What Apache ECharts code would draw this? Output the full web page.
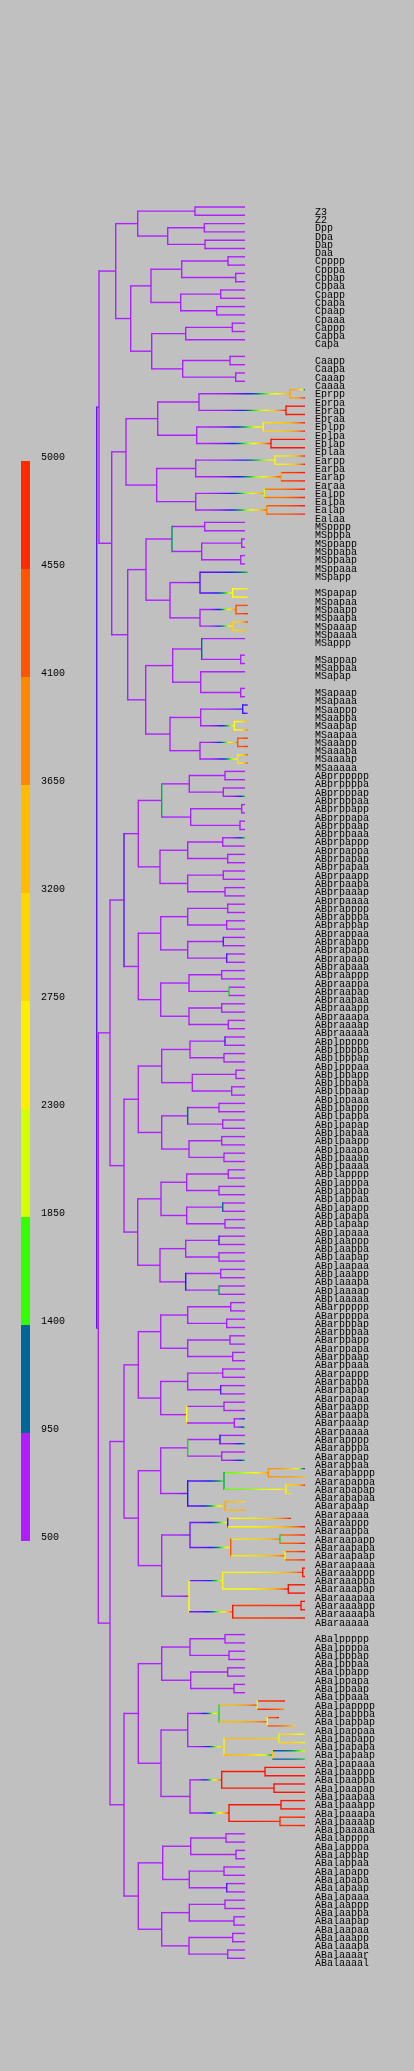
<!DOCTYPE html>
<html>
<head>
<meta charset="utf-8">
<script src="https://cdn.jsdelivr.net/npm/echarts@6.0.0/dist/echarts.min.js"></script>
<style>
html, body { margin: 0; padding: 0; background: #c0c0c0; }
#chart { width: 414px; height: 2071px; }
</style>
</head>
<body>
<div id="chart"></div>
<script>
'use strict';

// leaves top to bottom. '' = empty row, [name, end time, level] when not default
var leavesP = ['Z3', 'Z2', 'Dpp', 'Dpa', 'Dap', 'Daa',
    'Cpppp', 'Cpppa', 'Cppap', 'Cppaa', 'Cpapp', 'Cpapa', 'Cpaap', 'Cpaaa',
    'Cappp', 'Cappa', 'Capa', '', 'Caapp', 'Caapa', 'Caaap', 'Caaaa'];

var leavesE = [['Eprpp', 305, 1100], ['Eprpa', 305, 4800], ['Eprap', 305, 4800], ['Epraa', 305, 4800],
    ['Eplpp', 305, 4800], ['Eplpa', 305, 4800], ['Eplap', 305, 4800], ['Eplaa', 305, 4800],
    ['Earpp', 305, 4800], ['Earpa', 305, 4800], ['Earap', 305, 4800], ['Earaa', 305, 4800],
    ['Ealpp', 305, 4800], ['Ealpa', 305, 4800], ['Ealap', 305, 4800], ['Ealaa', 305, 4800]];

var leavesMS = ['MSpppp', 'MSpppa', 'MSppapp', 'MSppapa', 'MSppaap', 'MSppaaa',
    ['MSpapp', 247.7, 1600], '', ['MSpapap', 247.7, 2600], ['MSpapaa', 247.7, 2600],
    ['MSpaapp', 247.7, 4400], ['MSpaapa', 247.7, 4800], ['MSpaaap', 247.7, 4800], ['MSpaaaa', 247.7, 3400],
    'MSappp', '', 'MSappap', 'MSappaa', 'MSapap', '', 'MSapaap', 'MSapaaa',
    ['MSaappp', 247.7, 1000], ['MSaappa', 247.7, 500], ['MSaapap', 247.7, 3600], ['MSaapaa', 247.7, 4200],
    ['MSaaapp', 247.7, 4800], ['MSaaapa', 247.7, 4800], ['MSaaaap', 247.7, 4800], ['MSaaaaa', 247.7, 4600]];

var leavesABpr = ['ABprppppp', 'ABprppppa', 'ABprpppap', ['ABprpppaa', 245, 1600],
    'ABprppapp', 'ABprppapa', 'ABprppaap', 'ABprppaaa',
    ['ABprpappp', 245, 1600], 'ABprpappa', 'ABprpapap', 'ABprpapaa',
    'ABprpaapp', 'ABprpaapa', 'ABprpaaap', 'ABprpaaaa',
    'ABprapppp', 'ABprapppa', 'ABprappap', 'ABprappaa',
    'ABprapapp', 'ABprapapa', 'ABprapaap', 'ABprapaaa',
    'ABpraappp', 'ABpraappa', 'ABpraapap', 'ABpraapaa',
    'ABpraaapp', 'ABpraaapa', 'ABpraaaap', 'ABpraaaaa'];

var leavesABpl = ['ABplppppp', 'ABplppppa', 'ABplpppap', 'ABplpppaa',
    'ABplppapp', 'ABplppapa', 'ABplppaap', 'ABplppaaa',
    'ABplpappp', 'ABplpappa', 'ABplpapap', 'ABplpapaa',
    'ABplpaapp', 'ABplpaapa', 'ABplpaaap', 'ABplpaaaa',
    'ABplapppp', 'ABplapppa', 'ABplappap', 'ABplappaa',
    'ABplapapp', 'ABplapapa', 'ABplapaap', 'ABplapaaa',
    'ABplaappp', 'ABplaappa', 'ABplaapap', 'ABplaapaa',
    'ABplaaapp', 'ABplaaapa', 'ABplaaaap', 'ABplaaaaa'];

var leavesABar = ['ABarppppp', 'ABarppppa', 'ABarpppap', 'ABarpppaa',
    'ABarppapp', 'ABarppapa', 'ABarppaap', 'ABarppaaa',
    'ABarpappp', 'ABarpappa', 'ABarpapap', 'ABarpapaa',
    'ABarpaapp', 'ABarpaapa', ['ABarpaaap', 245, 1300], ['ABarpaaaa', 245, 1700],
    'ABarapppp', ['ABarapppa', 245, 1500], 'ABarappap', ['ABarappaa', 245, 1600],
    ['ABarapappp', 305, 800], ['ABarapappa', 305, 3300], ['ABarapapap', 305, 4800], ['ABarapapaa', 290.7, 2600],
    ['ABarapaap', 245, 2800], ['ABarapaaa', 245, 3600],
    ['ABaraappp', 291, 4800], ['ABaraappa', 305, 4800],
    ['ABaraapapp', 305, 4800], ['ABaraapapa', 305, 4800], ['ABaraapaap', 305, 4800], ['ABaraapaaa', 305, 4800],
    ['ABaraaappp', 305, 4800], ['ABaraaappa', 305, 4800], ['ABaraaapap', 305, 4800], ['ABaraaapaa', 305, 4800],
    ['ABaraaaapp', 305, 4800], ['ABaraaaapa', 305, 4800], ['ABaraaaaa', 305, 4800], ''];

var leavesABal = ['ABalppppp', 'ABalppppa', 'ABalpppap', 'ABalpppaa',
    'ABalppapp', 'ABalppapa', 'ABalppaap', 'ABalppaaa',
    ['ABalpapppp', 285, 4800], ['ABalpapppa', 284, 3800], ['ABalpappap', 279, 4800], ['ABalpappaa', 295, 3000],
    ['ABalpapapp', 305, 2000], ['ABalpapapa', 305, 2500], ['ABalpapaap', 305, 2200], ['ABalpapaaa', 305, 1600],
    ['ABalpaappp', 305, 4800], ['ABalpaappa', 305, 4800], ['ABalpaapap', 305, 4800], ['ABalpaapaa', 305, 4800],
    ['ABalpaaapp', 305, 4800], ['ABalpaaapa', 305, 4800], ['ABalpaaaap', 305, 4800], ['ABalpaaaaa', 305, 4800],
    'ABalapppp', 'ABalapppa', 'ABalappap', 'ABalappaa',
    'ABalapapp', 'ABalapapa', 'ABalapaap', 'ABalapaaa',
    'ABalaappp', 'ABalaappa', 'ABalaapap', 'ABalaapaa',
    'ABalaaapp', 'ABalaaapa', 'ABalaaaar', 'ABalaaaal'];

// divisions: [cell, time, level at division, level of the division bar]
var divP = [['P0', 96.7, 500, 800], ['P1', 99], ['P2', 115.7], ['P3', 137.7], ['P4', 195],
    ['D', 167.7], ['Dp', 204.3], ['Da', 205],
    ['C', 130.7], ['Cp', 151], ['Cpp', 181.7], ['Cppp', 228], ['Cppa', 235.7],
    ['Cpa', 180.7], ['Cpap', 220.7], ['Cpaa', 216.7],
    ['Ca', 151.7], ['Cap', 185.7], ['Capp', 232.3], ['Caa', 182.7], ['Caap', 230], ['Caaa', 235.7],
    ['EMS', 111.7], ['AB', 98.3], ['ABp', 110], ['ABa', 110]];

var divE = [['E', 126], ['Ep', 157.7], ['Epr', 199], ['Eprp', 290, 3600], ['Epra', 286, 4800],
    ['Epl', 196.7], ['Eplp', 263.3, 3000, 2600], ['Epla', 271, 4800],
    ['Ea', 156.7], ['Ear', 195.7], ['Earp', 275, 2700, 2600], ['Eara', 281, 4500, 3600],
    ['Eal', 195.7], ['Ealp', 264.3, 4000, 2000], ['Eala', 266.7, 4300, 3900]];

var divMS = [['MS', 127.7], ['MSp', 146], ['MSpp', 172, 500, 1400], ['MSppp', 204.7], ['MSppa', 201.7],
    ['MSppap', 241.7], ['MSppaa', 240.7],
    ['MSpa', 170], ['MSpap', 200, 800], ['MSpapa', 232.7, 2500], ['MSpaa', 200],
    ['MSpaap', 236, 4300], ['MSpaaa', 232.7, 3000],
    ['MSa', 145.7], ['MSap', 172.7], ['MSapp', 201.7, 500, 1250], ['MSappa', 240.7],
    ['MSapa', 200.7], ['MSapaa', 240.7],
    ['MSaa', 170], ['MSaap', 200.7], ['MSaapp', 242.7, 900], ['MSaapa', 234.3, 2500],
    ['MSaaa', 200], ['MSaaap', 237.7, 4300], ['MSaaaa', 237.7, 2800]];

var divABpr = [['ABpr', 124, 500, 800], ['ABprp', 138.3], ['ABprpp', 161.7, 500, 1500],
    ['ABprppp', 189.3], ['ABprpppp', 225], ['ABprpppa', 223.3],
    ['ABprppa', 190.7], ['ABprppap', 241.7], ['ABprppaa', 240],
    ['ABprpa', 160], ['ABprpap', 187.7], ['ABprpapp', 222.7], ['ABprpapa', 227.7],
    ['ABprpaa', 187.7], ['ABprpaap', 223.3], ['ABprpaaa', 225],
    ['ABpra', 138.3], ['ABprap', 160.7], ['ABprapp', 187.7], ['ABprappp', 227.7], ['ABprappa', 226.7],
    ['ABprapa', 187.7], ['ABprapap', 223.3, 500, 800], ['ABprapaa', 226.7, 500, 800],
    ['ABpraa', 160.7], ['ABpraap', 189], ['ABpraapp', 221.7], ['ABpraapa', 229, 500, 1600],
    ['ABpraaa', 189], ['ABpraaap', 221.7], ['ABpraaaa', 228.3]];

var divABpl = [['ABpl', 124], ['ABplp', 138.3], ['ABplpp', 161.7],
    ['ABplppp', 190], ['ABplpppp', 225, 500, 800], ['ABplpppa', 224],
    ['ABplppa', 192.3], ['ABplppap', 236], ['ABplppaa', 231.7],
    ['ABplpa', 161.7], ['ABplpap', 187.7, 500, 1250], ['ABplpapp', 219], ['ABplpapa', 222.7],
    ['ABplpaa', 189], ['ABplpaap', 221.7], ['ABplpaaa', 224],
    ['ABpla', 137.7], ['ABplap', 161], ['ABplapp', 186.7], ['ABplappp', 228.3], ['ABplappa', 219],
    ['ABplapa', 186.7], ['ABplapap', 222.7, 500, 1250], ['ABplapaa', 225],
    ['ABplaa', 160], ['ABplaap', 185.7], ['ABplaapp', 219, 500, 800], ['ABplaapa', 219],
    ['ABplaaa', 185.7, 500, 1000], ['ABplaaap', 220.7], ['ABplaaaa', 219, 500, 1500]];

var divABar = [['ABar', 124], ['ABarp', 138.3], ['ABarpp', 160.7],
    ['ABarppp', 187.7], ['ABarpppp', 230.7], ['ABarpppa', 226.7],
    ['ABarppa', 187.7], ['ABarppap', 230], ['ABarppaa', 232.7],
    ['ABarpa', 160.7], ['ABarpap', 187.7], ['ABarpapp', 222.7], ['ABarpapa', 220.7, 500, 800],
    ['ABarpaa', 186.7, 500, 2500], ['ABarpaap', 224], ['ABarpaaa', 234.3],
    ['ABara', 138.3], ['ABarap', 160.7], ['ABarapp', 187.7, 500, 1600],
    ['ABarappp', 220, 500, 1000], ['ABarappa', 221.7],
    ['ABarapa', 187.7, 800, 1000], ['ABarapap', 224, 1800, 1500],
    ['ABarapapp', 268.3, 3800], ['ABarapapa', 286, 3000, 2600], ['ABarapaa', 225, 3400, 3600],
    ['ABaraa', 161.7], ['ABaraap', 190, 700], ['ABaraapp', 227.7, 2600, 900],
    ['ABaraapa', 230.7, 2800, 4300], ['ABaraapap', 280, 4200, 1600], ['ABaraapaa', 285, 4300, 2600],
    ['ABaraaa', 189, 700, 2500], ['ABaraaap', 222.7, 2400, 2600],
    ['ABaraaapp', 302.7, 4600, 4800], ['ABaraaapa', 288.3, 4800],
    ['ABaraaaa', 232.7, 4500, 4800], ['ABaraaaap', 301, 4800]];

var divABal = [['ABal', 124], ['ABalp', 138.3], ['ABalpp', 161.7],
    ['ABalppp', 190], ['ABalpppp', 225], ['ABalpppa', 229],
    ['ABalppa', 190.7], ['ABalppap', 227.7], ['ABalppaa', 234],
    ['ABalpa', 161], ['ABalpap', 187.7], ['ABalpapp', 219, 3400, 1600],
    ['ABalpappp', 257.3, 4600, 2200], ['ABalpappa', 267.3, 4300, 2500],
    ['ABalpapa', 224, 3400, 2700], ['ABalpapap', 279, 3000, 2200], ['ABalpapaa', 272.3, 1200, 3200],
    ['ABalpaa', 190], ['ABalpaap', 221.7, 4800], ['ABalpaapp', 265, 4800], ['ABalpaapa', 274, 4800],
    ['ABalpaaa', 229, 4800], ['ABalpaaap', 281, 4800], ['ABalpaaaa', 280, 4600],
    ['ABala', 138.3], ['ABalap', 162.7], ['ABalapp', 190.7], ['ABalappp', 226], ['ABalappa', 236],
    ['ABalapa', 189.3], ['ABalapap', 224], ['ABalapaa', 226.7, 500, 800],
    ['ABalaa', 161.7], ['ABalaap', 189.3], ['ABalaapp', 225], ['ABalaapa', 234],
    ['ABalaaa', 189], ['ABalaaap', 232.7], ['ABalaaaa', 227.7]];

var END_TIME = 245;
var BASE_LEVEL = 500;

// colour scale
var cbTicks = [500, 950, 1400, 1850, 2300, 2750, 3200, 3650, 4100, 4550, 5000];
var cbColors = ['#b01eff', '#00669a', '#33ff00', '#d4ff00', '#ffee00',
    '#ffd500', '#ffbb00', '#ff8800', '#ff5500', '#ff2a00'];
var lineColors = [[500, '#b020ff'], [800, '#5a14ff'], [1000, '#1a1aff'], [1250, '#00669a'],
    [1500, '#00b048'], [1700, '#33ff00'], [2000, '#ccff00'], [2500, '#ffff00'], [3000, '#ffd500'],
    [3400, '#ffbb00'], [3900, '#ff8800'], [4300, '#ff5500'], [4800, '#ff1400'], [5000, '#ff0000']];

// layout
var W = 414, H = 2071;
var ROW = 8.3, FIRST_ROW_Y = 207;
var LABEL_X = 315, LABEL_DY = 5;
var LINE_W = 1.4;
var FONT = '10px "Liberation Mono", "DejaVu Sans Mono", monospace';


function levelColor(v) {
    if (v <= lineColors[0][0]) return lineColors[0][1];
    for (var i = 1; i < lineColors.length; i++) {
        if (v <= lineColors[i][0]) {
            var a = lineColors[i - 1], b = lineColors[i];
            return echarts.color.lerp((v - a[0]) / (b[0] - a[0]), [a[1], b[1]]);
        }
    }
    return lineColors[lineColors.length - 1][1];
}

// build the lineage from the names
var founderParent = {
    Z2: 'P4', Z3: 'P4', P4: 'P3', D: 'P3', P3: 'P2', C: 'P2', P2: 'P1',
    E: 'EMS', MS: 'EMS', EMS: 'P1', P1: 'P0', AB: 'P0'
};
function parentOf(name) {
    if (name === 'P0') return null;
    if (founderParent[name]) return founderParent[name];
    return name.slice(0, -1);
}

var nodes = {};
function getNode(name) {
    if (!nodes[name]) {
        nodes[name] = { name: name, children: [], x: null, lv: BASE_LEVEL, vlv: null, y: null, leaf: false };
    }
    return nodes[name];
}

var leafRows = [].concat(leavesP, leavesE, leavesMS, leavesABpr, leavesABpl, leavesABar, leavesABal);
var labelData = [];
leafRows.forEach(function (item, row) {
    if (!item) return;
    var name = typeof item === 'string' ? item : item[0];
    var n = getNode(name);
    n.leaf = true;
    n.y = row;
    n.x = typeof item === 'string' ? END_TIME : item[1];
    if (typeof item !== 'string') n.lv = item[2];
    labelData.push([LABEL_X, row, name]);

    var c = name, p;
    while ((p = parentOf(c))) {
        var pn = getNode(p);
        if (pn.children.indexOf(c) >= 0) break;
        pn.children.push(c);
        c = p;
    }
});

[].concat(divP, divE, divMS, divABpr, divABpl, divABar, divABal).forEach(function (d) {
    var n = getNode(d[0]);
    n.x = d[1];
    if (d[2] != null) n.lv = d[2];
    if (d[3] != null) n.vlv = d[3];
});

function placeY(name) {
    var n = nodes[name];
    if (n.y === null) {
        var ys = n.children.map(placeY);
        n.y = (ys[0] + ys[ys.length - 1]) / 2;
    }
    return n.y;
}
placeY('P0');

// [start, end, row, level start, level end, internal, row top, row bottom, bar level]
var branchData = [];
Object.keys(nodes).forEach(function (name) {
    var n = nodes[name];
    var p = parentOf(name);
    var pn = p ? nodes[p] : n;
    var top = n.leaf ? n.y : nodes[n.children[0]].y;
    var bot = n.leaf ? n.y : nodes[n.children[n.children.length - 1]].y;
    branchData.push([pn.x, n.x, n.y, pn.lv, n.lv, n.leaf ? 0 : 1, top, bot,
        n.vlv != null ? n.vlv : n.lv]);
});

var bandData = [];
for (var i = 0; i < cbColors.length; i++) {
    bandData.push([0, cbTicks[i], cbTicks[i + 1], i]);
}


// expression mostly changes late in a cell's life, so the ramp is eased
function branchStroke(xa, xb, lv0, lv1) {
    if (lv0 === lv1) return levelColor(lv1);
    var stops = [];
    var N = 14;
    for (var k = 0; k <= N; k++) {
        var t = k / N;
        stops.push({ offset: t, color: levelColor(lv0 + (lv1 - lv0) * t * t * t) });
    }
    return { type: 'linear', x: xa, y: 0, x2: xb, y2: 0, global: true, colorStops: stops };
}

function renderBranch(params, api) {
    var x0 = api.value(0), x1 = api.value(1), row = api.value(2);
    var a = api.coord([x0, row]);
    var b = api.coord([x1, row]);
    var kids = [];
    if (x1 > x0) {
        kids.push({
            type: 'line',
            shape: { x1: a[0], y1: a[1], x2: b[0], y2: b[1] },
            style: { stroke: branchStroke(a[0], b[0], api.value(3), api.value(4)), lineWidth: LINE_W }
        });
    }
    if (api.value(5) === 1) {
        var t = api.coord([x1, api.value(6)]);
        var u = api.coord([x1, api.value(7)]);
        kids.push({
            type: 'line',
            shape: { x1: t[0], y1: t[1] - LINE_W / 2, x2: u[0], y2: u[1] + LINE_W / 2 },
            style: { stroke: levelColor(api.value(8)), lineWidth: LINE_W }
        });
    }
    return { type: 'group', children: kids };
}

function renderLabel(params, api) {
    var p = api.coord([api.value(0), api.value(1)]);
    return {
        type: 'text',
        x: p[0],
        y: p[1] + LABEL_DY,
        style: { text: labelData[params.dataIndex][2], font: FONT, fill: '#000', verticalAlign: 'middle' }
    };
}

function renderBand(params, api) {
    var lo = api.coord([0, api.value(1)]);
    var hi = api.coord([1, api.value(2)]);
    return {
        type: 'rect',
        shape: { x: lo[0], y: hi[1], width: hi[0] - lo[0], height: lo[1] - hi[1] },
        style: { fill: cbColors[api.value(3)] }
    };
}

function renderTick(params, api) {
    var p = api.coord([1, api.value(0)]);
    return {
        type: 'text',
        x: p[0] + 11,
        y: p[1] + 1,
        style: { text: String(api.value(0)), font: FONT, fill: '#000', verticalAlign: 'bottom' }
    };
}


var chart = echarts.init(document.getElementById('chart'), null, { renderer: 'canvas' });
chart.setOption({
    backgroundColor: '#c0c0c0',
    animation: false,
    grid: [
        { left: 0, right: 0, top: 0, bottom: 0 },
        { left: 21, top: 461, width: 9, height: 1080 }
    ],
    xAxis: [
        { type: 'value', gridIndex: 0, min: 0, max: W, show: false },
        { type: 'value', gridIndex: 1, min: 0, max: 1, show: false }
    ],
    yAxis: [
        { type: 'value', gridIndex: 0, inverse: true, show: false,
          min: -FIRST_ROW_Y / ROW, max: (H - FIRST_ROW_Y) / ROW },
        { type: 'value', gridIndex: 1, min: cbTicks[0], max: cbTicks[cbTicks.length - 1], show: false }
    ],
    series: [
        {
            type: 'custom', xAxisIndex: 0, yAxisIndex: 0, clip: false, silent: true,
            renderItem: renderBranch, encode: { x: [0, 1], y: 2 }, data: branchData
        },
        {
            type: 'custom', xAxisIndex: 0, yAxisIndex: 0, clip: false, silent: true,
            renderItem: renderLabel, encode: { x: 0, y: 1 }, data: labelData
        },
        {
            type: 'custom', xAxisIndex: 1, yAxisIndex: 1, clip: false, silent: true,
            renderItem: renderBand, encode: { x: 0, y: [1, 2] }, data: bandData
        },
        {
            type: 'custom', xAxisIndex: 1, yAxisIndex: 1, clip: false, silent: true,
            renderItem: renderTick, encode: { y: 0 }, data: cbTicks.map(function (v) { return [v]; })
        }
    ]
});
</script>
</body>
</html>
